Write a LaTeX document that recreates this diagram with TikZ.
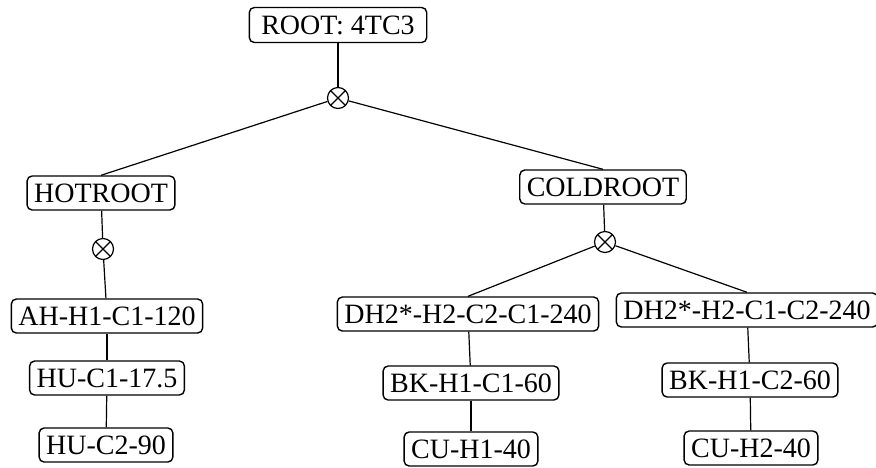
\documentclass[tikz,border=0pt]{standalone}
\usepackage{fontspec}
\setmainfont{Liberation Serif}
\tikzset{
  box/.style={draw, rounded corners=2.5pt, line width=0.7pt, font=\fontsize{14}{16}\selectfont, inner xsep=3.5pt, inner ysep=0pt, minimum height=17pt},
  prod/.style={circle, draw, line width=0.6pt, minimum size=10.5pt, inner sep=0pt,
    path picture={\draw[line width=0.6pt] (path picture bounding box.north west) -- (path picture bounding box.south east)
      (path picture bounding box.north east) -- (path picture bounding box.south west);}},
  link/.style={line width=0.6pt},
}
\begin{document}
\begin{tikzpicture}[x=0.5pt, y=-0.5pt]
    \useasboundingbox (0,0) rectangle (876,467);
    % root
    \node[box, inner xsep=6pt, minimum height=17.5pt] (root) at (338, 25) {ROOT: 4TC3};
    \node[prod] (x1) at (338, 98) {};
    % hot side
    \node[box] (hot)  at (101, 193) {HOTROOT};
    \node[prod] (x2)  at (103, 249) {};
    \node[box] (ah)   at (107, 316) {AH-H1-C1-120};
    \node[box] (hu1)  at (107, 378) {HU-C1-17.5};
    \node[box] (hu2)  at (106, 445) {HU-C2-90};
    % cold side
    \node[box] (cold) at (603, 187) {COLDROOT};
    \node[prod] (x3)  at (605, 242) {};
    \node[box] (dh1)  at (468, 314) {DH2*-H2-C2-C1-240};
    \node[box] (bk1)  at (471, 383) {BK-H1-C1-60};
    \node[box] (cu1)  at (471, 449) {CU-H1-40};
    \node[box] (dh2)  at (747, 310) {DH2*-H2-C1-C2-240};
    \node[box] (bk2)  at (750, 380) {BK-H1-C2-60};
    \node[box] (cu2)  at (751, 448) {CU-H2-40};
    % links
    \draw[link] (root) -- (x1);
    \draw[link] (x1) -- (hot.north);
    \draw[link] (x1) -- (cold.north);
    \draw[link] (hot) -- (x2);
    \draw[link] (x2) -- (ah);
    \draw[link] (ah) -- (hu1);
    \draw[link] (hu1) -- (hu2);
    \draw[link] (cold) -- (x3);
    \draw[link] (x3) -- (dh1.north);
    \draw[link] (x3) -- (dh2.north);
    \draw[link] (dh1) -- (bk1);
    \draw[link] (bk1) -- (cu1);
    \draw[link] (dh2) -- (bk2);
    \draw[link] (bk2) -- (cu2);
\end{tikzpicture}
\end{document}
